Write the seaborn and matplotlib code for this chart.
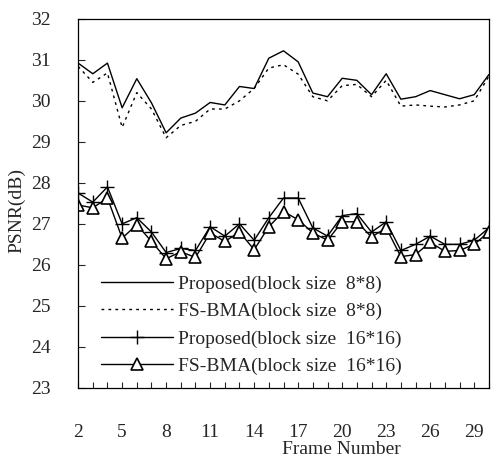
import numpy as np
import pandas as pd
import matplotlib
matplotlib.use("Agg")
import matplotlib.pyplot as plt
import seaborn as sns
from matplotlib.ticker import MultipleLocator, FixedLocator

frames = list(range(2, 31))

prop8 = [30.92, 30.66, 30.92, 29.83, 30.54, 29.95, 29.22, 29.58, 29.70, 29.96,
         29.90, 30.35, 30.30, 31.04, 31.22, 30.95, 30.19, 30.10, 30.55, 30.50,
         30.15, 30.66, 30.04, 30.10, 30.25, 30.15, 30.05, 30.15, 30.64]
fs8 = [30.84, 30.45, 30.68, 29.35, 30.20, 29.80, 29.10, 29.40, 29.50, 29.80,
       29.80, 30.00, 30.30, 30.80, 30.88, 30.65, 30.10, 30.00, 30.37, 30.40,
       30.10, 30.50, 29.87, 29.90, 29.87, 29.85, 29.90, 30.00, 30.60]
prop16 = [27.75, 27.53, 27.90, 27.00, 27.15, 26.80, 26.30, 26.40, 26.35, 26.93,
          26.70, 27.00, 26.60, 27.15, 27.63, 27.63, 26.90, 26.70, 27.20, 27.25,
          26.80, 27.05, 26.35, 26.50, 26.70, 26.50, 26.50, 26.60, 26.90]
fs16 = [27.46, 27.39, 27.63, 26.65, 26.98, 26.57, 26.15, 26.32, 26.18, 26.78,
        26.57, 26.80, 26.37, 26.93, 27.30, 27.10, 26.78, 26.60, 27.05, 27.05,
        26.68, 26.90, 26.20, 26.25, 26.55, 26.33, 26.35, 26.50, 26.80]

labels = ["Proposed(block size  8*8)", "FS-BMA(block size  8*8)",
          "Proposed(block size  16*16)", "FS-BMA(block size  16*16)"]
xticks = [2, 5, 8, 11, 14, 17, 20, 23, 26, 29]
yticks = [23, 24, 25, 26, 27, 28, 29, 30, 31, 32]

sns.set_style("white")
plt.rcParams['font.family'] = ['Liberation Serif', 'DejaVu Serif']

fig = plt.figure(figsize=(5.04, 4.59), dpi=100)
ax = fig.add_axes([0.155, 0.155, 0.815, 0.804])

series = [prop8, fs8, prop16, fs16]
styles = [dict(ls='-', marker=None),
          dict(ls=(0, (2, 3)), marker=None),
          dict(ls='-', marker='+', ms=10, mew=1.0),
          dict(ls='-', marker='^', ms=8, mfc='white', mew=1.2)]
for vals, lab, st in zip(series, labels, styles):
    df = pd.DataFrame({"Frame": frames, "PSNR": vals})
    kw = dict(color='black', lw=1.0, linestyle=st['ls'])
    if st['marker']:
        kw.update(marker=st['marker'], markersize=st['ms'], markeredgewidth=st['mew'],
                  markeredgecolor='black')
        if 'mfc' in st:
            kw.update(markerfacecolor=st['mfc'])
    sns.lineplot(data=df, x="Frame", y="PSNR", ax=ax, label=lab, **kw)

ax.set_xlim(2, 30)
ax.set_ylim(23, 32)
ax.xaxis.set_major_locator(FixedLocator(xticks))
ax.xaxis.set_minor_locator(MultipleLocator(1))
ax.yaxis.set_major_locator(FixedLocator(yticks))
ax.tick_params(axis='x', which='both', direction='in', length=4, width=0.8, pad=26,
               labelsize=14, bottom=True)
ax.tick_params(axis='y', direction='in', length=5, width=0.8, pad=20, labelsize=14, left=True)
for s in ax.spines.values():
    s.set_color('black')
    s.set_linewidth(0.9)

ax.set_xlabel("Frame Number", fontsize=14)
ax.set_ylabel("PSNR(dB)", fontsize=14)
ax.xaxis.set_label_coords(0.64, -0.143)
ax.yaxis.set_label_coords(-0.128, 0.48)

leg = ax.legend(loc='lower left', bbox_to_anchor=(0.055, 0.035), frameon=False,
                fontsize=14, handlelength=3.7, handletextpad=0.3, labelspacing=0.5,
                borderaxespad=0.0, borderpad=0.0)

fig.savefig("out.png", dpi=100)
